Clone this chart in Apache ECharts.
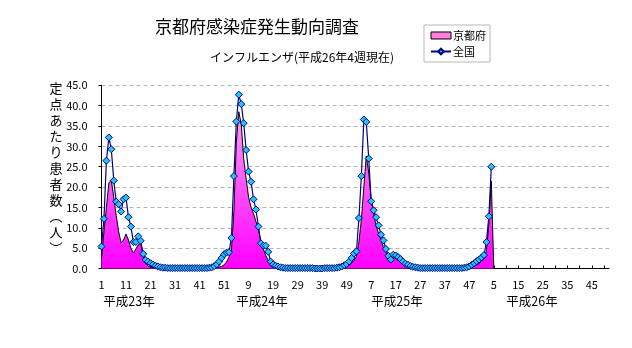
<!DOCTYPE html>
<html><head><meta charset="utf-8">
<script src="https://cdn.jsdelivr.net/npm/echarts@6/dist/echarts.min.js"></script>
<style>html,body{margin:0;padding:0;background:#fff}#c{width:632px;height:348px}</style>
</head><body><div id="c"></div>
<script>
// week labels per year (平成23〜26年)
const weeksPerYear = [52, 52, 52, 52];
const yearLabels = ['平成23年', '平成24年', '平成25年', '平成26年'];
const yTicks = [0, 5, 10, 15, 20, 25, 30, 35, 40, 45];

// 全国 (national) per-sentinel values, 13 weeks per row
const national2011 = [
  5.4,12.2,26.5,32.2,29.3,21.6,16.4,15.8,14.0,17.0,17.4,12.6,10.3,
  6.5,6.5,7.9,6.8,3.6,2.1,1.7,1.3,1.0,0.7,0.5,0.3,0.2,
  0.2,0.1,0.1,0.1,0.1,0.1,0.1,0.1,0.1,0.1,0.1,0.1,0.1,
  0.1,0.1,0.1,0.1,0.1,0.2,0.3,0.6,1.0,1.7,2.6,3.5,3.9];
const national2012 = [
  4.0,7.5,22.7,36.1,42.7,40.4,35.7,29.1,23.8,21.3,17.0,14.5,10.3,
  6.2,5.6,5.6,4.1,1.7,1.0,0.7,0.5,0.3,0.2,0.1,0.1,0.1,
  0.1,0.1,0.1,0.1,0.1,0.1,0.1,0.1,0.1,0.0,0.0,0.0,0.0,
  0.1,0.1,0.1,0.1,0.1,0.2,0.3,0.5,0.8,1.1,1.7,2.6,3.7];
const national2013 = [
  4.2,12.4,22.7,36.6,36.0,27.0,16.5,14.3,12.6,10.6,8.3,6.9,4.8,
  3.1,2.2,3.4,3.2,2.8,2.3,1.7,1.2,0.9,0.6,0.4,0.3,0.2,
  0.1,0.1,0.1,0.1,0.1,0.1,0.1,0.1,0.1,0.1,0.1,0.1,0.1,
  0.1,0.1,0.1,0.1,0.1,0.2,0.3,0.5,0.9,1.3,1.8,2.2,2.7];
const national2014 = [3.3,6.5,12.8,25.0];

// 京都府 (Kyoto) per-sentinel values, 13 weeks per row
const kyoto2011 = [
  2.5,9,15,21,21.7,17.5,13,9,6.3,7,8.5,7,5,
  3.8,4.8,5.8,6.2,3,1.3,0.6,0.3,0.2,0.1,0.1,0.0,0.0,
  0.0,0.0,0.0,0.0,0.0,0.0,0.0,0.0,0.0,0.0,0.0,0.0,0.0,
  0.0,0.0,0.0,0.0,0.0,0.1,0.1,0.2,0.3,0.4,0.5,0.9,1.6];
const kyoto2012 = [
  2.8,4.5,14,31,38.5,35.5,27,22,17.5,15,13.5,11.5,9.5,
  6.8,4.8,3.2,2.0,1.1,0.6,0.3,0.2,0.1,0.1,0.0,0.0,0.0,
  0.0,0.0,0.0,0.0,0.0,0.0,0.0,0.0,0.0,0.0,0.0,0.0,0.0,
  0.0,0.0,0.0,0.0,0.0,0.1,0.1,0.2,0.3,0.5,0.8,1.3,2.0];
const kyoto2013 = [
  3.0,6.5,12,20,27.6,23.5,17,13.5,10.5,8.6,7,5.2,4,
  3.0,2.5,2.8,2.9,2.5,2.0,1.4,0.9,0.5,0.3,0.2,0.1,0.1,
  0.0,0.0,0.0,0.0,0.0,0.0,0.0,0.0,0.0,0.0,0.0,0.0,0.0,
  0.0,0.0,0.0,0.0,0.1,0.1,0.2,0.2,0.4,0.6,0.9,1.2,1.8];
const kyoto2014 = [2.5,4.3,11,21.5,0];

const FONT = '"Noto Sans CJK JP", sans-serif';

const categories = [];
weeksPerYear.forEach(n => { for (let w = 1; w <= n; w++) categories.push(String(w)); });
function pad(arr) { const out = arr.slice(); while (out.length < categories.length) out.push(null); return out; }
const national = pad([].concat(national2011, national2012, national2013, national2014));
const kyoto = pad([].concat(kyoto2011, kyoto2012, kyoto2013, kyoto2014));

const GRID = { left: 101.5, right: 23, top: 85.3, bottom: 79.5 };

const chart = echarts.init(document.getElementById('c'), null, { renderer: 'canvas' });
const option = {
  animation: false,
  backgroundColor: '#fff',
  textStyle: { fontFamily: FONT },
  grid: { left: GRID.left, right: GRID.right, top: GRID.top, bottom: GRID.bottom, containLabel: false },
  legend: {
    orient: 'vertical', left: 424, top: 25,
    itemWidth: 20, itemHeight: 7, itemGap: 5,
    padding: [5, 4, 5, 6],
    backgroundColor: '#fff', borderColor: '#b8b8b8', borderWidth: 1, borderRadius: 0,
    textStyle: { fontSize: 11, color: '#000', fontFamily: FONT, padding: [0, 0, 0, -3] },
    data: [
      { name: '京都府', icon: 'rect', itemStyle: { color: '#ff7fe0', borderColor: '#000', borderWidth: 1 } },
      { name: '全国' }
    ]
  },
  xAxis: {
    type: 'category', data: categories, boundaryGap: false,
    axisLine: { lineStyle: { color: '#000', width: 1 } },
    axisTick: { show: true, inside: true, interval: 4, length: 3, lineStyle: { color: '#000' } },
    axisLabel: { interval: 9, color: '#000', fontSize: 11, margin: 11, fontFamily: FONT },
    splitLine: { show: false }
  },
  yAxis: {
    type: 'value', min: yTicks[0], max: yTicks[yTicks.length - 1], interval: 5,
    axisLine: { show: true, lineStyle: { color: '#000', width: 1 } },
    axisTick: { show: true, length: 3, lineStyle: { color: '#000' } },
    axisLabel: { formatter: v => v.toFixed(1), color: '#000', fontSize: 11, margin: 14, fontFamily: FONT },
    splitLine: { show: true, lineStyle: { color: '#b4b4b4', type: [4, 3], width: 1 } }
  },
  series: [
    {
      name: '京都府', type: 'line', data: kyoto, symbol: 'none', connectNulls: false,
      lineStyle: { color: '#000', width: 1 },
      itemStyle: { color: '#ff7fe0' },
      areaStyle: {
        opacity: 1,
        color: new echarts.graphic.LinearGradient(0, 85, 0, 268.5, [
          { offset: 0, color: '#ffb8f2' },
          { offset: 1, color: '#ff00ff' }
        ], true)
      },
      z: 2
    },
    {
      name: '全国', type: 'line', data: national,
      symbol: 'diamond', symbolSize: 7, showAllSymbol: true,
      lineStyle: { color: '#000080', width: 1.2 },
      itemStyle: { color: '#1ec8ff', borderColor: '#000080', borderWidth: 1 },
      z: 3
    }
  ],
  graphic: [
    { type: 'text', x: 257, y: 27, style: { text: '京都府感染症発生動向調査', fontSize: 17, fontFamily: FONT, fill: '#000', textAlign: 'center', textVerticalAlign: 'middle' } },
    { type: 'text', x: 302, y: 57, style: { text: 'インフルエンザ(平成26年4週現在)', fontSize: 12, fontFamily: FONT, fill: '#000', textAlign: 'center', textVerticalAlign: 'middle' } },
    { type: 'text', x: 56, y: 80, style: { text: '定\n点\nあ\nた\nり\n患\n者\n数\n︵\n人\n︶', fontSize: 13, lineHeight: 16, fontFamily: FONT, fill: '#000', textAlign: 'center', textVerticalAlign: 'top' } },
    { type: 'text', x: 129, y: 301.5, style: { text: yearLabels[0], fontSize: 12.5, fontFamily: FONT, fill: '#000', textAlign: 'center', textVerticalAlign: 'middle' } },
    { type: 'text', x: 262, y: 301.5, style: { text: yearLabels[1], fontSize: 12.5, fontFamily: FONT, fill: '#000', textAlign: 'center', textVerticalAlign: 'middle' } },
    { type: 'text', x: 397, y: 301.5, style: { text: yearLabels[2], fontSize: 12.5, fontFamily: FONT, fill: '#000', textAlign: 'center', textVerticalAlign: 'middle' } },
    { type: 'text', x: 532, y: 301.5, style: { text: yearLabels[3], fontSize: 12.5, fontFamily: FONT, fill: '#000', textAlign: 'center', textVerticalAlign: 'middle' } }
  ]
};
chart.setOption(option);
</script></body></html>
